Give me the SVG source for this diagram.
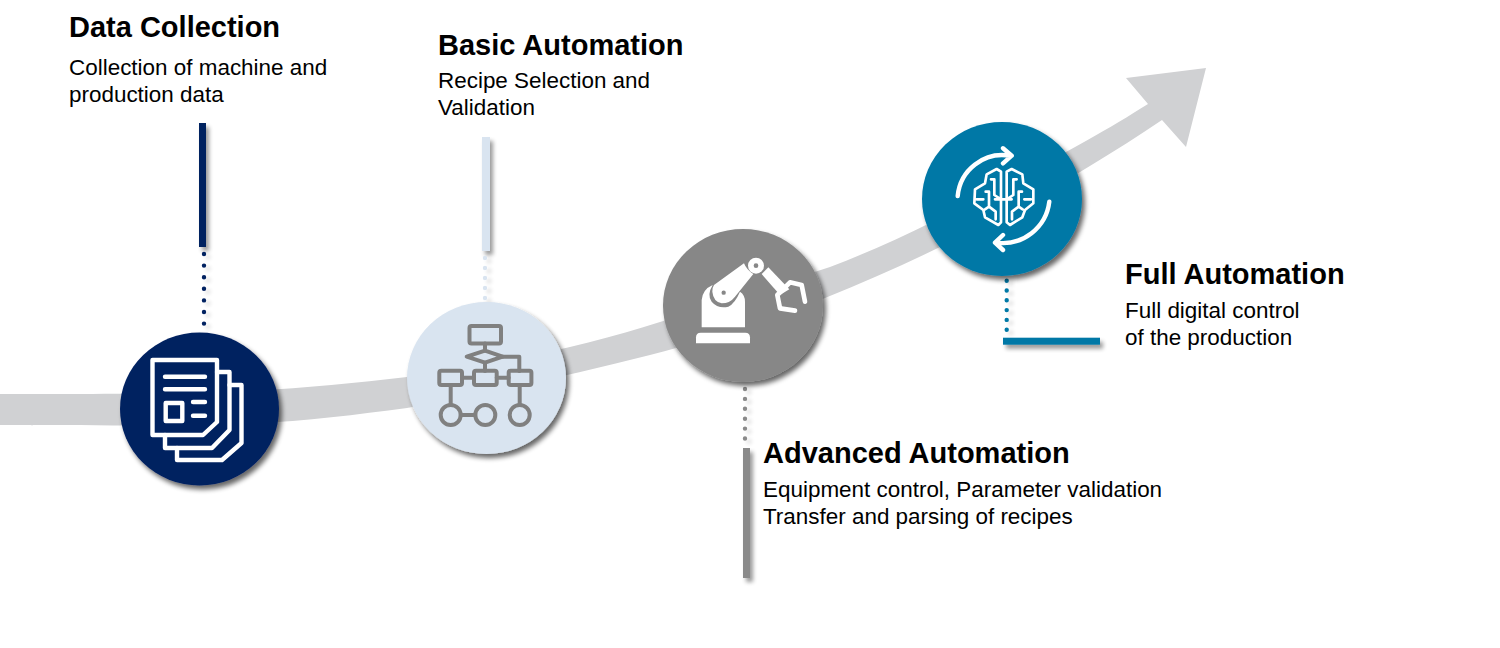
<svg xmlns="http://www.w3.org/2000/svg" width="1500" height="648" viewBox="0 0 1500 648">
<style>
.h{font:bold 29px "Liberation Sans",Arial,sans-serif;fill:#000}
.b{font:22.45px "Liberation Sans",Arial,sans-serif;fill:#000}
.wl{fill:none;stroke:#fff;stroke-width:4.4;stroke-linejoin:round;stroke-linecap:round}
.gl{fill:none;stroke:#808080;stroke-width:4;stroke-linejoin:round;stroke-linecap:round}
.dot{fill:none;stroke-width:4.4;stroke-linecap:round}
</style>
<defs>
<filter id="s" x="-20%" y="-20%" width="150%" height="150%"><feGaussianBlur in="SourceAlpha" stdDeviation="2.5"/><feOffset dx="3" dy="4"/><feComponentTransfer><feFuncA type="linear" slope="0.6"/></feComponentTransfer><feMerge><feMergeNode/><feMergeNode in="SourceGraphic"/></feMerge></filter>
<filter id="sb" filterUnits="userSpaceOnUse" x="0" y="0" width="1500" height="648"><feGaussianBlur in="SourceAlpha" stdDeviation="2.2"/><feOffset dx="3" dy="4"/><feComponentTransfer><feFuncA type="linear" slope="0.4"/></feComponentTransfer><feMerge><feMergeNode/><feMergeNode in="SourceGraphic"/></feMerge></filter>
<filter id="sd" filterUnits="userSpaceOnUse" x="0" y="0" width="1500" height="648"><feGaussianBlur in="SourceAlpha" stdDeviation="2"/><feOffset dx="4" dy="3"/><feComponentTransfer><feFuncA type="linear" slope="0.18"/></feComponentTransfer><feMerge><feMergeNode/><feMergeNode in="SourceGraphic"/></feMerge></filter>
</defs>
<g id="connectors">
<path id="growth-arrow" fill="#d0d1d3" d="M0 394 C60 394 120 394 200 393 C270 391 340 385 407 377 C500 364 590 345 660 322 C720 303 780 283 830 267 C890 244 950 215 1010 180 C1060 157 1110 128 1148 104 L1126 78 L1206 68 L1186 147 L1162 120 C1110 155 1060 185 1000 217 C950 243 890 272 825 298 C770 319 710 340 650 355 C570 375 490 393 407 408 C340 417 270 425 200 425 C130 426 60 425 0 425 Z"/>
<g filter="url(#sb)">
<rect x="199" y="123" width="7" height="124" fill="#002060"/>
<rect x="482" y="137" width="8" height="114" fill="#d9e4f0"/>
<rect x="743" y="448" width="7" height="130" fill="#8a8a8a"/>
<rect x="1003" y="337.700" width="97" height="7" fill="#0378a6"/>
</g>
<g filter="url(#sd)">
<path class="dot" stroke="#002060" stroke-dasharray="0 11.6" d="M204 254V325"/>
<path class="dot" stroke="#d9e4f0" stroke-dasharray="0 10" d="M485 258V300"/>
<path class="dot" stroke="#8a8a8a" stroke-dasharray="0 9.900" d="M745 389V440"/>
<path class="dot" stroke="#0378a6" stroke-dasharray="0 9.800" d="M1006.700 280.700V331"/>
</g>
</g>
<g id="node-data-collection">
<ellipse cx="199.500" cy="409" rx="79.500" ry="76.500" fill="#002060" filter="url(#s)"/>
<g class="wl">
<path d="M152.500 360H217V422L203 435H152.500Z"/>
<path d="M217 372H229.500V430L212 448H165V435"/>
<path d="M229.500 385H241.500V443L222 460H177V448"/>
<path d="M165 376.700H205M165 389.300H205M193 402H205M193 415.700H205"/>
<rect x="165.700" y="403" width="16.600" height="18"/>
</g>
<text class="h" x="69" y="37">Data Collection</text>
<text class="b" x="69" y="75">Collection of machine and</text>
<text class="b" x="69" y="102">production data</text>
</g>
<g id="node-basic-automation">
<ellipse cx="486.500" cy="378" rx="79.500" ry="76" fill="#d9e4f0" filter="url(#s)"/>
<g class="gl">
<rect x="469.500" y="326" width="31.500" height="17.500" rx="2"/>
<path d="M466.700 356.700L485 350.700L502.700 356.700L485 362.700Z"/>
<path d="M485 343.500V350.700M485 362.700V371M502.700 356.700H519.300V371M462 377.700H474M496.700 377.700H508.700M450.700 385V405M519.700 385V405M460.700 415H475.300"/>
<rect x="439.300" y="370.700" width="22.700" height="14.300" rx="2"/>
<rect x="474" y="370.700" width="22.700" height="14.300" rx="2"/>
<rect x="508.700" y="370.700" width="22.700" height="14.300" rx="2"/>
<circle cx="450.700" cy="415" r="10"/>
<circle cx="485.300" cy="415" r="10"/>
<circle cx="519.700" cy="415" r="10"/>
</g>
<text class="h" x="438" y="54.500">Basic Automation</text>
<text class="b" x="438" y="88">Recipe Selection and</text>
<text class="b" x="438" y="115">Validation</text>
</g>
<g id="node-advanced-automation">
<ellipse cx="743" cy="305.500" rx="80" ry="76.500" fill="#878787" filter="url(#s)"/>
<g transform="translate(690 250) scale(.3333)">
<path fill="#fff" d="M18 280V262Q18 248 32 248H166Q180 248 180 262V280Z"/>
<path fill="#fff" d="M35 232V150Q38 118 68 105Q50 135 65 155Q85 178 115 170Q135 160 150 125Q165 135 165 155V232Z"/>
<path fill="#fff" d="M72 105L162 40Q170 60 190 72L135 140Q120 160 95 160Q70 155 67 125Q67 112 72 105Z"/>
<circle cx="198" cy="47" r="24" fill="#fff"/>
<circle cx="198" cy="47" r="7" fill="#878787"/>
<circle cx="101" cy="128" r="6.500" fill="#878787"/>
<path fill="#fff" d="M235 52L298 118L270 135L215 72Z"/>
<path d="M262 135L300 97L335 105L345 155M262 135L270 175L315 182" fill="none" stroke="#fff" stroke-width="14" stroke-linecap="round" stroke-linejoin="round"/>
</g>
<text class="h" x="763" y="463">Advanced Automation</text>
<text class="b" x="763" y="497">Equipment control, Parameter validation</text>
<text class="b" x="763" y="524">Transfer and parsing of recipes</text>
</g>
<g id="node-full-automation">
<ellipse cx="1002" cy="199" rx="80" ry="77" fill="#0378a6" filter="url(#s)"/>
<path class="wl" d="M957.700 196A45 45 0 0 1 1010 155.700M1003 148.300L1011.700 155.700L1003 163.300M1049.300 201.700A47 47 0 0 1 996.700 242.700M1003 235L995 242.700L1003 250"/>
<g transform="translate(965 160) scale(.3333)">
<path class="wl" style="stroke-width:8" d="M108 35L95 27L65 43L60 70L30 88L28 130L55 150L60 172L100 195L108 187V35ZM125 35L140 27L172 43L175 70L205 88L205 130L180 150L172 172L135 195L125 187V35ZM90 118H140M78 58H88V105L108 118M155 58H145V105L125 118M35 118H55M198 118H178M62 95H72V140L60 148M171 95H161V140L173 148M72 140L92 155V178M161 140L141 155V178"/>
</g>
<text class="h" x="1125" y="284">Full Automation</text>
<text class="b" x="1125" y="318">Full digital control</text>
<text class="b" x="1125" y="345">of the production</text>
</g>
</svg>
